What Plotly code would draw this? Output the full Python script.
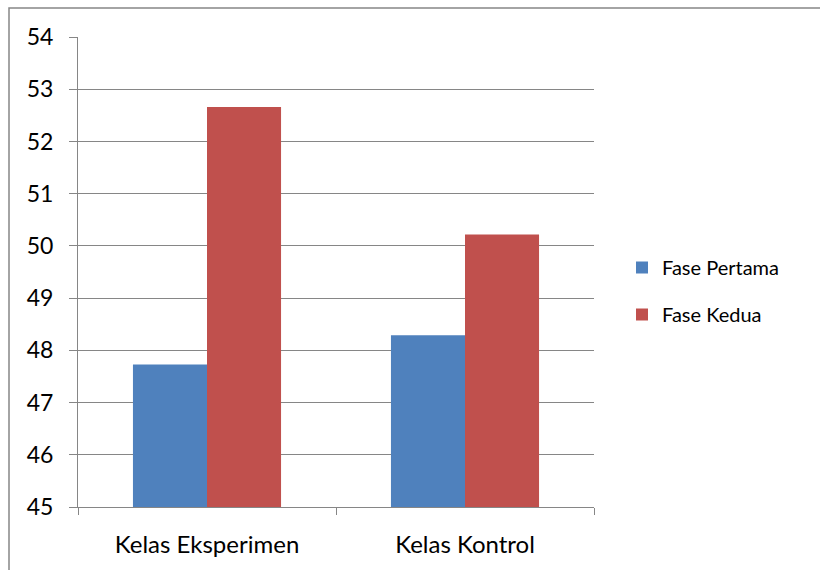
import plotly.graph_objects as go

categories = ["Kelas Eksperimen", "Kelas Kontrol"]
fase_pertama = [47.73, 48.29]
fase_kedua = [52.66, 50.22]
y_ticks = [45, 46, 47, 48, 49, 50, 51, 52, 53, 54]

W, H = 820, 570
L, R, T, B = 78, 226, 37, 63
pw, ph = W - L - R, H - T - B

font = dict(family="Lato, 'Open Sans', sans-serif", size=23, color="#000000")

fig = go.Figure()
fig.add_trace(go.Bar(name="Fase Pertama", x=categories, y=fase_pertama,
                     marker=dict(color="#4F81BD", line=dict(width=0)),
                     legendgroup="a"))
fig.add_trace(go.Bar(name="Fase Kedua", x=categories, y=fase_kedua,
                     marker=dict(color="#C0504D", line=dict(width=0)),
                     legendgroup="b"))

def px_x(x):
    return (x - L) / pw

def px_y(y):
    return (H - B - y) / ph

fig.update_layout(
    width=W, height=H,
    margin=dict(l=L, r=R, t=T, b=B),
    paper_bgcolor="white", plot_bgcolor="white",
    font=font,
    barmode="group", bargap=0.426, bargroupgap=0,
    showlegend=True,
    legend=dict(x=px_x(622), y=px_y(248), xanchor="left", yanchor="top",
                tracegroupgap=18, font=dict(size=20), itemwidth=30,
                bgcolor="rgba(0,0,0,0)"),
    xaxis=dict(type="category", showline=True, linecolor="#868686", linewidth=1,
               ticks="outside", tickson="boundaries", ticklen=7, tickcolor="#868686",
               showgrid=False, ticklabelstandoff=16, tickfont=dict(size=24)),
    yaxis=dict(range=[45, 54], tickvals=y_ticks, showline=True, linecolor="#868686",
               linewidth=1, ticks="outside", ticklen=8, tickcolor="#868686",
               showgrid=True, gridcolor="#868686", gridwidth=1, zeroline=False,
               ticklabelstandoff=11),
    shapes=[dict(type="rect", xref="paper", yref="paper",
                 x0=px_x(9), x1=px_x(W + 20), y0=px_y(H + 20), y1=px_y(8),
                 line=dict(color="#868686", width=1.5), layer="below")],
)

fig.write_html("out.html")
